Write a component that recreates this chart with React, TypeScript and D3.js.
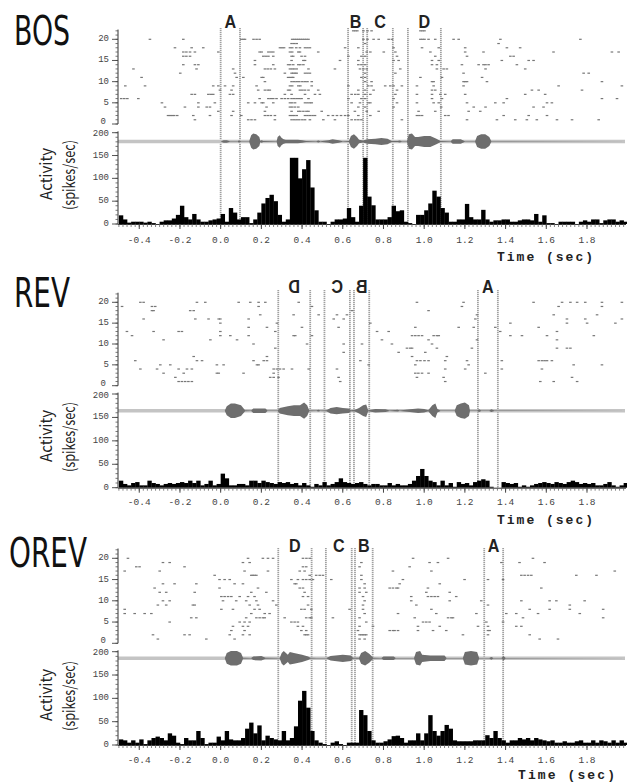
import React from "react";
import * as d3 from "d3";

// ---------- data ----------
const panelNames = ["BOS", "REV", "OREV"];
const timeTicks = [-0.4, -0.2, 0.0, 0.2, 0.4, 0.6, 0.8, 1.0, 1.2, 1.4, 1.6, 1.8];
const rasterTicks = [0, 5, 10, 15, 20];
const activityTicks = [0, 50, 100, 150, 200];
const binStart = -0.5;
const binWidth = 0.02;

// PSTH, 20 ms bins from -0.5 s (spikes/sec)
const bosHist = [
  19, 10, 3, 5, 5, 5, 3, 5, 2, 0,
  5, 8, 8, 12, 20, 40, 15, 10, 22, 10,
  5, 5, 8, 10, 12, 22, 5, 35, 25, 10,
  15, 15, 2, 10, 25, 45, 57, 64, 50, 20,
  5, 10, 145, 145, 100, 120, 140, 80, 30, 5,
  5, 0, 5, 10, 10, 12, 35, 15, 5, 40,
  145, 60, 41, 10, 10, 10, 15, 40, 28, 30,
  5, 2, 0, 20, 20, 30, 45, 73, 60, 35,
  25, 5, 5, 10, 10, 44, 15, 10, 10, 31,
  10, 5, 8, 8, 10, 10, 5, 5, 8, 10,
  10, 8, 22, 5, 19, 2, 2, 0, 5, 5,
  5, 5, 0, 5, 8, 5, 10, 10, 2, 8,
  10, 10, 5, 8, 5,
];
const revHist = [
  15, 8, 5, 10, 12, 5, 5, 15, 10, 8,
  5, 8, 10, 8, 10, 12, 10, 15, 10, 15,
  5, 8, 15, 5, 8, 30, 20, 5, 5, 8,
  8, 5, 15, 15, 10, 15, 12, 10, 8, 12,
  10, 12, 8, 10, 5, 10, 5, 2, 8, 5,
  12, 5, 8, 12, 20, 12, 10, 8, 10, 12,
  8, 5, 8, 8, 5, 5, 10, 5, 8, 5,
  5, 8, 15, 25, 40, 25, 15, 12, 5, 15,
  5, 10, 2, 12, 8, 10, 5, 12, 15, 18,
  15, 2, 0, 0, 12, 10, 8, 10, 2, 5,
  2, 5, 8, 10, 12, 10, 8, 12, 10, 8,
  12, 15, 12, 8, 10, 8, 10, 5, 5, 8,
  12, 5, 2, 5, 10,
];
const orevHist = [
  12, 10, 5, 10, 5, 12, 2, 10, 15, 18,
  15, 10, 25, 20, 5, 2, 15, 10, 10, 30,
  15, 2, 5, 5, 18, 10, 30, 12, 10, 10,
  15, 35, 48, 25, 42, 10, 20, 15, 12, 10,
  30, 10, 15, 40, 95, 116, 80, 30, 10, 5,
  2, 0, 5, 8, 2, 0, 5, 5, 5, 75,
  64, 30, 10, 5, 5, 8, 12, 19, 20, 15,
  5, 10, 10, 25, 10, 25, 64, 30, 20, 30,
  43, 35, 10, 8, 8, 8, 8, 10, 10, 10,
  21, 15, 30, 15, 10, 5, 10, 10, 15, 12,
  15, 10, 15, 12, 10, 8, 10, 5, 5, 8,
  5, 5, 8, 10, 5, 5, 10, 5, 10, 8,
  5, 10, 5, 10, 5,
];

// Raster: spike times (s) per trial, index 0 = trial 1
const bosRaster: number[][] = [
  [-0.128, 0.134, 0.15, 0.167, 0.265, 0.347, 0.36, 0.372, 0.385, 0.4, 0.413, 0.437, 0.503, 0.56, 0.642, 0.66, 0.675, 0.69, 0.889, 1.209, 1.356, 1.446, 1.503, 1.552, 1.651, 1.725, 1.856],
  [-0.26, -0.25, -0.24, -0.23, -0.215, -0.136, -0.054, 0.052, 0.1, 0.216, 0.23, 0.245, 0.265, 0.339, 0.35, 0.36, 0.372, 0.413, 0.425, 0.437, 0.45, 0.462, 0.527, 0.55, 0.57, 0.59, 0.61, 0.626, 0.675, 0.734, 0.963, 0.975, 0.988, 1.102, 1.118, 1.389, 1.512, 1.602],
  [-0.013, 0.06, 0.216, 0.347, 0.38, 0.39, 0.405, 0.42, 0.43, 0.495, 0.658, 0.716, 0.775, 0.971, 1.053, 1.217, 1.274],
  [-0.275, -0.177, -0.111, -0.07, -0.054, 0.224, 0.339, 0.35, 0.364, 0.38, 0.675, 0.708, 0.848, 1.082, 1.242, 1.3, 1.536, 1.585],
  [-0.29, -0.111, -0.03, 0.134, 0.167, 0.2, 0.208, 0.257, 0.339, 0.35, 0.364, 0.413, 0.425, 0.437, 0.446, 0.642, 0.683, 0.724, 0.734, 0.865, 0.963, 1.045, 1.07, 1.209, 1.348, 1.389, 1.602, 1.626],
  [-0.49, -0.475, -0.46, -0.406, 0.19, 0.233, 0.245, 0.257, 0.273, 0.298, 0.314, 0.33, 0.347, 0.36, 0.372, 0.385, 0.396, 0.43, 0.626, 0.69, 0.708, 0.848, 1.037, 1.086, 1.405, 1.872, 1.946],
  [-0.144, -0.128, -0.062, -0.05, -0.038, 0.044, 0.06, 0.314, 0.347, 0.413, 0.462, 0.486, 0.642, 0.66, 0.675, 0.708, 0.734, 0.857, 0.963, 1.037, 1.078, 1.102, 1.2, 1.495, 1.593],
  [-0.005, 0.052, 0.183, 0.216, 0.23, 0.24, 0.33, 0.339, 0.388, 0.4, 0.413, 0.43, 0.478, 0.675, 0.708, 0.75, 0.865, 1.037, 1.053, 1.528, 1.561, 1.774],
  [-0.47, -0.373, -0.038, -0.013, 0.02, 0.06, 0.175, 0.339, 0.35, 0.38, 0.39, 0.446, 0.626, 0.724, 0.74, 0.807, 0.832, 0.848, 0.889, 0.963, 1.045, 1.192, 1.659, 1.97],
  [0.216, 0.347, 0.36, 0.372, 0.385, 0.4, 0.413, 0.425, 0.446, 0.708, 0.74, 1.037, 1.045, 1.192, 1.2, 1.209, 1.307, 1.872],
  [-0.39, 0.077, 0.11, 0.2, 0.208, 0.33, 0.34, 0.35, 0.355, 0.69, 0.708, 0.98, 1.086, 1.283],
  [-0.2, 0.069, 0.314, 0.347, 0.355, 0.364, 0.372, 0.413, 0.425, 0.437, 0.708, 0.857, 1.192, 1.782, 1.807],
  [-0.43, -0.12, 0.06, 0.216, 0.23, 0.245, 0.265, 0.339, 0.35, 0.36, 0.372, 0.43, 0.56, 0.683, 0.7, 0.716, 0.881, 1.061, 1.094, 1.11, 1.3, 1.495],
  [-0.185, -0.128, -0.111, 0.167, 0.257, 0.33, 0.34, 0.355, 0.38, 0.39, 0.405, 0.675, 0.69, 0.708, 1.037, 1.061, 1.184, 1.266, 1.29, 1.3, 1.315, 1.454],
  [0.167, 0.347, 0.405, 0.413, 0.585, 0.675, 0.848, 0.873, 1.037, 1.07, 1.38, 1.512, 1.536],
  [-0.185, -0.17, -0.152, 0.208, 0.22, 0.233, 0.257, 0.347, 0.355, 0.396, 0.413, 0.626, 0.69, 0.708, 0.865, 1.053, 1.209, 1.422, 1.438],
  [-0.185, -0.17, -0.152, -0.128, -0.013, 0.19, 0.2, 0.233, 0.245, 0.257, 0.339, 0.35, 0.38, 0.388, 0.478, 0.716, 0.734, 0.8, 0.857, 1.029, 1.2, 1.29, 1.634, 1.921, 1.954],
  [-0.226, -0.144, -0.087, 0.29, 0.3, 0.31, 0.339, 0.35, 0.37, 0.388, 0.413, 0.425, 0.437, 0.61, 0.675, 0.848, 0.988, 1.07, 1.2, 1.405, 1.47],
  [0.347, 0.36, 0.372, 0.708, 1.364],
  [-0.349, -0.185, 0.1, 0.11, 0.118, 0.16, 0.175, 0.19, 0.35, 0.36, 0.37, 0.38, 0.39, 0.4, 0.41, 0.42, 0.43, 0.7, 0.72, 0.75, 0.775, 0.824, 0.84, 0.98, 0.99, 1.0, 1.02, 1.053, 1.143, 1.168, 1.373, 1.766],
  [],
  [0.65, 0.66, 0.67, 0.7, 0.72, 0.74, 0.98, 0.99, 1.0],
];
const revRaster: number[][] = [
  [-0.208, -0.192, -0.176, -0.16, -0.143, 0.586, 1.102, 1.569, 1.635, 1.75],
  [-0.224, 0.242, 0.259, 0.283, 0.578, 0.963, 1.094, 1.725],
  [-0.282, -0.183, -0.02, -0.011, 0.111, 0.259, 0.955, 0.97, 0.988, 1.02, 1.299],
  [-0.396, -0.314, -0.208, -0.167, -0.143, 0.259, 0.275, 0.29, 0.308, 0.349, 0.431, 0.57, 1.102, 1.2, 1.38, 1.577],
  [-0.298, -0.249, -0.02, 0.013, 0.177, 0.185, 0.726, 0.955, 1.217, 1.733, 1.872],
  [-0.421, -0.118, -0.093, 0.16, 0.21, 0.226, 0.685, 0.963, 0.98, 1.0, 1.02, 1.102, 1.209, 1.38, 1.561, 1.577, 1.59, 1.602, 1.626],
  [-0.134, 0.226, 0.939, 1.11],
  [0.603, 0.873, 1.004],
  [0.267, 0.914, 0.93, 0.939, 1.061, 1.233, 1.651, 1.7, 1.717],
  [0.16, 0.423, 0.603, 0.693, 0.84, 1.037],
  [-0.282, -0.052, 0.079, 0.791, 1.02, 1.258, 1.651],
  [-0.437, -0.003, 0.046, 0.136, 0.357, 0.365, 0.447, 0.939, 0.955, 0.971, 0.988, 1.045, 1.061, 1.07, 1.422, 1.479, 1.602, 1.832],
  [-0.462, -0.331, -0.208, -0.192, -0.003, 0.267, 0.767, 0.824, 1.372, 1.651],
  [0.136, 0.226, 0.398, 0.578, 0.955, 1.168, 1.242, 1.348, 1.561],
  [-0.003, 0.275, 0.734, 1.422, 1.7, 1.799, 1.938],
  [-0.38, -0.126, -0.061, -0.011, -0.003, 0.136, 0.554, 0.603, 1.25, 1.7, 1.79, 1.97],
  [0.193, 0.357, 0.48, 0.57, 0.619, 1.258, 1.635, 1.848],
  [-0.339, -0.331, -0.151, -0.134, 0.644, 1.02],
  [-0.486, -0.339, -0.323, 0.185, 0.447, 1.184, 1.659, 1.872],
  [-0.396, -0.38, -0.118, -0.077, 0.087, 0.144, 0.185, 0.218, 0.382, 0.963, 1.192, 1.536, 1.676, 1.717, 1.75, 1.79, 1.872, 1.97],
];
const orevRaster: number[][] = [
  [-0.31, -0.072, 0.067, 0.681, 0.706, 1.566, 1.656],
  [-0.334, -0.179, -0.154, 0.043, 0.108, 0.141, 0.411, 0.419, 0.428, 0.681, 0.69, 0.698, 0.706, 0.714, 1.189, 1.312, 1.517],
  [0.051, 0.116, 0.395, 0.419, 0.673, 0.829, 0.845, 0.853, 0.87, 0.968, 1.042, 1.107, 1.312, 1.32],
  [0.059, 0.108, 0.133, 0.378, 0.403, 0.681, 0.747, 0.968, 1.075, 1.263, 1.312, 1.451, 1.476],
  [-0.252, 0.092, 0.116, 0.141, 0.346, 0.362, 0.378, 0.714, 0.993, 1.009, 1.025, 1.304, 1.386],
  [-0.146, -0.121, 0.124, 0.174, 0.19, 0.206, 0.215, 0.313, 0.419, 0.436, 0.444, 0.55, 0.681, 0.952, 1.116, 1.132, 1.14, 1.484, 1.878],
  [-0.473, -0.424, -0.375, -0.342, 0.149, 0.215, 0.239, 0.706, 0.87, 1.058, 1.255, 1.402, 1.451, 1.558, 1.763],
  [-0.473, 0.002, 0.059, 0.165, 0.19, 0.395, 0.411, 0.444, 0.632, 0.698, 1.034, 1.517, 1.615, 1.714, 1.878],
  [-0.31, -0.269, -0.138, -0.129, 0.141, 0.182, 0.272, 0.428, 0.698, 0.96, 1.312, 1.714],
  [-0.285, -0.252, 0.01, 0.075, 0.124, 0.174, 0.256, 0.706, 0.935, 1.124, 1.279, 1.476, 1.615, 1.648, 1.787],
  [0.002, 0.018, 0.035, 0.051, 0.092, 0.133, 0.165, 0.403, 0.428, 0.698, 0.935, 1.017, 1.034, 1.05, 1.066, 1.156],
  [-0.301, -0.269, -0.129, 0.149, 0.223, 0.411, 0.681, 0.714, 1.009, 1.124],
  [-0.326, -0.007, 0.182, 0.387, 0.403, 0.681, 0.706, 0.829, 0.845, 0.862, 0.87, 1.017, 1.574],
  [-0.285, -0.228, -0.121, 0.067, 0.108, 0.362, 0.37, 0.706, 0.878, 1.075],
  [-0.007, 0.018, 0.043, 0.346, 0.378, 0.403, 0.419, 0.436, 0.452, 0.542, 0.69, 0.894, 1.197, 1.312, 1.386],
  [-0.031, 0.149, 0.157, 0.165, 0.174, 0.436, 0.468, 0.485, 0.501, 0.69, 1.476, 1.492, 1.509, 1.525, 1.746, 1.845],
  [-0.473, -0.301, 0.116, 0.231, 0.387, 0.411, 0.845, 1.034, 1.935],
  [-0.416, -0.4, -0.179, 0.403, 0.419, 0.681, 0.927],
  [-0.285, -0.252, 0.108, 0.141, 0.69, 1.025, 1.066, 1.378, 1.467, 1.59],
  [-0.457, 0.133, 0.206, 0.231, 0.256, 0.403, 0.42, 0.436, 0.944, 1.116, 1.533],
];

// Song amplitude envelopes: [time (s), relative amplitude 0-10]
const bosWave: [number, number][] = [
  [-0.5, 0], [0.0, 0], [0.015, 1.5], [0.03, 1.5], [0.045, 0.3], [0.085, 0.3], [0.09, 1.5], [0.1, 0.3],
  [0.14, 0.3], [0.15, 7], [0.16, 9], [0.175, 8], [0.19, 5], [0.195, 0.5], [0.2, 1.5], [0.21, 0.5],
  [0.275, 0.3], [0.28, 5], [0.29, 7], [0.3, 4], [0.31, 2.5], [0.32, 2], [0.35, 2], [0.38, 2], [0.4, 1.5], [0.42, 0.5],
  [0.47, 0.3], [0.48, 1], [0.49, 0.3], [0.53, 1.5], [0.55, 2.5], [0.58, 1.5], [0.6, 0.3], [0.63, 0.5],
  [0.64, 6], [0.655, 8], [0.67, 5], [0.68, 2], [0.7, 1], [0.72, 2.5], [0.76, 3], [0.79, 4], [0.82, 3], [0.84, 0.5],
  [0.87, 0.5], [0.88, 1], [0.89, 0.3], [0.915, 0.3], [0.925, 8], [0.94, 9], [0.955, 5], [0.97, 5], [1.0, 6], [1.03, 6],
  [1.06, 3], [1.08, 0.5], [1.13, 0.3], [1.14, 2.5], [1.18, 2.5], [1.2, 0.3], [1.25, 0.3], [1.26, 6], [1.28, 8],
  [1.3, 8], [1.32, 5], [1.33, 0.3], [2.0, 0],
];
const revWave: [number, number][] = [
  [-0.5, 0], [0.02, 0], [0.03, 5], [0.05, 8], [0.07, 8], [0.1, 6], [0.12, 0.5], [0.15, 0.3], [0.16, 2.5],
  [0.22, 2.5], [0.23, 0.3], [0.28, 0.3], [0.29, 3], [0.33, 5], [0.36, 6], [0.39, 6], [0.41, 9], [0.425, 6],
  [0.435, 0.5], [0.47, 0.3], [0.48, 1], [0.49, 0.3], [0.52, 0.5], [0.54, 3], [0.57, 4], [0.6, 3], [0.63, 2.5],
  [0.64, 0.5], [0.66, 1], [0.68, 3], [0.7, 6], [0.715, 7], [0.725, 0.5], [0.76, 2], [0.81, 1.5], [0.83, 0.3],
  [0.87, 1], [0.88, 0.3], [0.93, 1.5], [0.97, 2.5], [1.0, 2], [1.02, 0.5], [1.04, 6], [1.055, 8], [1.065, 2],
  [1.08, 0.3], [1.15, 0.3], [1.16, 6], [1.18, 8], [1.2, 9], [1.22, 6], [1.225, 0.3], [1.26, 0.3], [1.27, 1.5],
  [1.28, 0.3], [1.32, 0.3], [1.33, 1.5], [1.345, 0.3], [2.0, 0],
];
const orevWave: [number, number][] = [
  [-0.5, 0], [0.02, 0], [0.03, 6], [0.05, 8], [0.08, 8], [0.1, 6], [0.11, 0.5], [0.15, 0.3], [0.16, 2],
  [0.2, 2.5], [0.22, 0.5], [0.29, 0.3], [0.3, 6], [0.31, 8], [0.33, 4], [0.34, 7], [0.36, 6], [0.4, 4],
  [0.43, 2], [0.44, 0.5], [0.47, 0.3], [0.52, 0.3], [0.54, 2.5], [0.6, 4], [0.64, 3], [0.65, 0.5], [0.68, 0.5],
  [0.69, 6], [0.71, 8], [0.73, 5], [0.75, 0.5], [0.79, 0.3], [0.8, 2], [0.85, 2], [0.86, 0.3], [0.95, 0.3],
  [0.96, 7], [0.98, 8], [0.99, 4], [1.03, 3], [1.1, 3], [1.11, 0.3], [1.19, 0.3], [1.2, 7], [1.23, 8],
  [1.26, 7], [1.27, 0.3], [1.32, 0.3], [1.33, 1.5], [1.34, 0.3], [1.38, 0.3], [1.39, 2.5], [1.4, 0.3], [2.0, 0],
];

// Syllable segments [label, start s, end s]; REV letters are shown mirrored
const bosSegments: [string, number, number][] = [["A", 0.0, 0.095], ["B", 0.626, 0.7], ["C", 0.72, 0.846], ["D", 0.92, 1.082]];
const revSegments: [string, number, number][] = [["D", 0.283, 0.44], ["C", 0.51, 0.635], ["B", 0.655, 0.73], ["A", 1.264, 1.362]];
const orevSegments: [string, number, number][] = [["D", 0.283, 0.447], ["C", 0.517, 0.644], ["B", 0.66, 0.747], ["A", 1.295, 1.388]];

// ---------- layout ----------
const layouts = [
  { r0: 124, r20: 39.3, h0: 224, h200: 132.7, waveY: 141.5, lineTop: 28, letterY: 28, titleY: 45, titleX: 14, titleLen: 56, actY: 174, tickY: 243, timeY: 261, timeX: 497, timeLen: 96, mirror: false },
  { r0: 385.7, r20: 302.3, h0: 487.7, h200: 394, waveY: 410.7, lineTop: 290, letterY: 293, titleY: 306.5, titleX: 14, titleLen: 56, actY: 436, tickY: 504.5, timeY: 524, timeX: 497, timeLen: 96, mirror: true },
  { r0: 643.3, r20: 558.3, h0: 745, h200: 651.7, waveY: 658.3, lineTop: 548, letterY: 552, titleY: 566.5, titleX: 9, titleLen: 78, actY: 695, tickY: 763, timeY: 779, timeX: 518, timeLen: 97, mirror: false },
];

const x = d3.scaleLinear().domain([-0.5, 2.0]).range([118.9, 627.7]);
const ampScale = d3.scaleLinear().domain([0, 10]).range([0, 9]);
const minorX = d3.range(-0.5, 2.0001, 0.02);
const AXIS_X = 118;
const TITLE_SX = 0.7;

function Panel({ idx }: { idx: number }) {
  const L = layouts[idx];
  const hist = [bosHist, revHist, orevHist][idx];
  const raster = [bosRaster, revRaster, orevRaster][idx];
  const wave = [bosWave, revWave, orevWave][idx];
  const segs = [bosSegments, revSegments, orevSegments][idx];

  const yR = d3.scaleLinear().domain([0, 20]).range([L.r0, L.r20]);
  const yH = d3.scaleLinear().domain([0, 200]).range([L.h0, L.h200]);

  const area = d3
    .area<[number, number]>()
    .x((d) => x(d[0]))
    .y0((d) => L.waveY - ampScale(d[1]))
    .y1((d) => L.waveY + ampScale(d[1]));

  const rasterMinor = d3.range(0, 23, 1);
  const histMinor = d3.range(0, 201, 10);
  const labelFont = "'Liberation Mono', monospace";

  return (
    <g>
      {/* title */}
      <text
        transform={`translate(${L.titleX},${L.titleY}) scale(${TITLE_SX},1)`}
        fontFamily="'DejaVu Sans', sans-serif"
        fontSize={40}
        textLength={L.titleLen / TITLE_SX}
        lengthAdjust="spacingAndGlyphs"
        fill="#111"
      >
        {panelNames[idx]}
      </text>
      {/* y label */}
      <g transform={`translate(45,${L.actY}) rotate(-90)`}>
        <text textAnchor="middle" dominantBaseline="central" fontFamily="'Noto Sans CJK JP', 'Noto Sans', sans-serif" fontSize={16} textLength={52} lengthAdjust="spacingAndGlyphs" fill="#222">
          Activity
        </text>
      </g>
      <g transform={`translate(68,${L.actY + 1}) rotate(-90)`}>
        <text textAnchor="middle" dominantBaseline="central" fontFamily="'Noto Sans CJK JP', 'Noto Sans', sans-serif" fontSize={16} textLength={70} lengthAdjust="spacingAndGlyphs" fill="#222">
          (spikes/sec)
        </text>
      </g>

      {/* segment lines */}
      {segs.map(([lab, s, e], i) => (
        <g key={"s" + i}>
          {[s, e].map((t, j) => (
            <line key={j} x1={x(t)} x2={x(t)} y1={L.lineTop} y2={L.h0} stroke="#a0a0a0" strokeWidth={1.8} strokeDasharray="1.2 0.8" />
          ))}
          <g transform={`translate(${(x(s) + x(e)) / 2},${L.letterY})` + (L.mirror && lab !== "A" ? " scale(-1,1)" : "")}>
            <text textAnchor="middle" fontFamily="'Liberation Sans', Arial, sans-serif" fontWeight="bold" fontSize={19} fill="#222" transform="scale(0.85,1)">
              {lab}
            </text>
          </g>
        </g>
      ))}

      {/* raster */}
      {raster.map((row, ti) =>
        row.map((t, k) => (
          <rect key={`r${ti}-${k}`} x={x(t) - 1} y={yR(ti + 1) - 0.6} width={2.6} height={1.2} fill="#777" />
        ))
      )}

      {/* waveform */}
      <line x1={AXIS_X} x2={625} y1={L.waveY} y2={L.waveY} stroke="#c4c4c4" strokeWidth={3.5} />
      <path d={area(wave) || ""} fill="#6e6e6e" />

      {/* histogram */}
      {hist.map((v, i) => {
        const t0 = binStart + i * binWidth;
        const x0 = x(t0);
        const x1 = x(t0 + binWidth);
        return <rect key={"h" + i} x={x0} y={yH(v)} width={x1 - x0 + 0.3} height={L.h0 - yH(v)} fill="#000" />;
      })}

      {/* y axes */}
      <line x1={AXIS_X} x2={AXIS_X} y1={yR(22.3)} y2={yR(0)} stroke="#333" strokeWidth={1} />
      <line x1={AXIS_X} x2={AXIS_X} y1={yH(203)} y2={L.h0} stroke="#333" strokeWidth={1} />
      {rasterMinor.map((v) => (
        <line key={"rm" + v} x1={AXIS_X - 2.5} x2={AXIS_X} y1={yR(v)} y2={yR(v)} stroke="#555" strokeWidth={0.8} />
      ))}
      {rasterTicks.map((v) => (
        <g key={"rt" + v}>
          <line x1={AXIS_X - 6} x2={AXIS_X} y1={yR(v)} y2={yR(v)} stroke="#444" strokeWidth={0.9} />
          <text x={AXIS_X - (v === 0 ? 12 : 9)} y={yR(v) - (v === 0 ? 2 : 0)} textAnchor="end" dominantBaseline="central" fontFamily={labelFont} fontSize={9} fill="#444">
            {v}
          </text>
        </g>
      ))}
      {histMinor.map((v) => (
        <line key={"hm" + v} x1={AXIS_X - 2.5} x2={AXIS_X} y1={yH(v)} y2={yH(v)} stroke="#555" strokeWidth={0.8} />
      ))}
      {activityTicks.map((v) => (
        <g key={"at" + v}>
          <line x1={AXIS_X - 6} x2={AXIS_X} y1={yH(v)} y2={yH(v)} stroke="#444" strokeWidth={0.9} />
          <text x={AXIS_X - 9} y={yH(v) + (v === 200 ? 1.5 : 0)} textAnchor="end" dominantBaseline="central" fontFamily={labelFont} fontSize={9} fill="#444">
            {v}
          </text>
        </g>
      ))}

      {/* x axis */}
      <line x1={AXIS_X} x2={626} y1={L.h0 + 0.5} y2={L.h0 + 0.5} stroke="#333" strokeWidth={1} />
      {minorX.map((t, i) => (
        <line key={"xm" + i} x1={x(t)} x2={x(t)} y1={L.h0} y2={L.h0 + 3} stroke="#666" strokeWidth={0.8} />
      ))}
      {timeTicks.map((t) => (
        <g key={"xt" + t}>
          <line x1={x(t)} x2={x(t)} y1={L.h0} y2={L.h0 + 5} stroke="#444" strokeWidth={1} />
          <text x={x(t)} y={L.tickY} textAnchor="middle" fontFamily={labelFont} fontSize={9.5} fill="#444">
            {t.toFixed(1)}
          </text>
        </g>
      ))}
      <text x={L.timeX} y={L.timeY} fontFamily={labelFont} fontWeight="bold" fontSize={13} textLength={L.timeLen} lengthAdjust="spacing" fill="#222">
        Time (sec)
      </text>
    </g>
  );
}

export default function App() {
  return (
    <svg width={627} height={782} viewBox="0 0 627 782" style={{ position: "absolute", left: 0, top: 0, background: "#fff" }}>
      <rect width={627} height={782} fill="#fff" />
      {[0, 1, 2].map((i) => (
        <Panel key={i} idx={i} />
      ))}
    </svg>
  );
}
